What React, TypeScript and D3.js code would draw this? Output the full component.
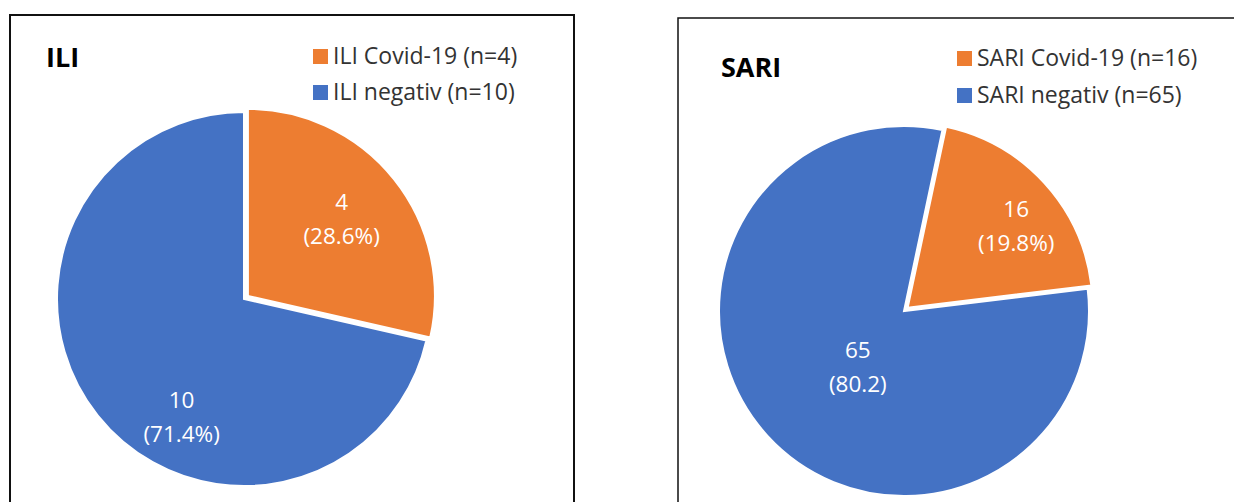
import React from "react";
import * as d3 from "d3";

// ---- Data ----
const iliCategories = ["ILI Covid-19 (n=4)", "ILI negativ (n=10)"];
const iliValues = [4, 10];
const iliPercentLabels = ["(28.6%)", "(71.4%)"];

const sariCategories = ["SARI Covid-19 (n=16)", "SARI negativ (n=65)"];
const sariValues = [16, 65];
const sariPercentLabels = ["(19.8%)", "(80.2)"];

const sliceColors = ["#ED7D31", "#4472C4"];

// ---- Layout ----
const W = 1234;
const H = 502;
const FONT = "'Open Sans', 'Noto Sans', sans-serif";

type PanelProps = {
  title: string;
  categories: string[];
  values: number[];
  pctLabels: string[];
  box: { x: number; y: number; w: number; h: number; sw: number };
  cx: number;
  cy: number;
  r: number;
  startDeg: number;
  explode: number;
  titlePos: { x: number; y: number };
  legend: { x: number; y: number; step: number };
  labelPlace: { frac: number; offDeg: number }[];
};

const rad = (d: number) => (d * Math.PI) / 180;

function PiePanel(p: PanelProps) {
  const pie = d3
    .pie<number>()
    .sort(null)
    .value((d) => d)
    .startAngle(rad(p.startDeg))
    .endAngle(rad(p.startDeg) + 2 * Math.PI);
  const arcs = pie(p.values);
  const arcGen = d3.arc<d3.PieArcDatum<number>>().innerRadius(0).outerRadius(p.r);

  return (
    <g>
      <rect
        x={p.box.x}
        y={p.box.y}
        width={p.box.w}
        height={p.box.h}
        fill="#fff"
        stroke="#111"
        strokeWidth={p.box.sw}
      />
      <text
        x={p.titlePos.x}
        y={p.titlePos.y}
        fontFamily={FONT}
        fontWeight="bold"
        fontSize={27}
        fill="#000"
      >
        {p.title}
      </text>
      {arcs.map((a, i) => {
        const mid = (a.startAngle + a.endAngle) / 2;
        const off = i === 0 ? p.explode : 0;
        const ox = p.cx + off * Math.sin(mid);
        const oy = p.cy - off * Math.cos(mid);
        const la = mid + rad(p.labelPlace[i].offDeg);
        const lr = p.labelPlace[i].frac * p.r;
        const lx = ox + lr * Math.sin(la);
        const ly = oy - lr * Math.cos(la);
        return (
          <g key={i}>
            <path
              d={arcGen(a) || ""}
              transform={`translate(${ox},${oy})`}
              fill={sliceColors[i]}
              stroke="#fff"
              strokeWidth={2}
              strokeLinejoin="miter"
            />
            <text
              x={lx}
              y={ly - 17}
              textAnchor="middle"
              dominantBaseline="central"
              fontFamily={FONT}
              fontSize={22.5}
              fill="#fff"
            >
              {String(a.data)}
            </text>
            <text
              x={lx}
              y={ly + 17}
              textAnchor="middle"
              dominantBaseline="central"
              fontFamily={FONT}
              fontSize={22.5}
              fill="#fff"
            >
              {p.pctLabels[i]}
            </text>
          </g>
        );
      })}
      {p.categories.map((c, i) => (
        <g key={c}>
          <rect
            x={p.legend.x}
            y={p.legend.y + i * p.legend.step}
            width={15}
            height={15}
            fill={sliceColors[i]}
          />
          <text
            x={p.legend.x + 20}
            y={p.legend.y + i * p.legend.step + 15}
            fontFamily={FONT}
            fontSize={23}
            fill="#333"
          >
            {c}
          </text>
        </g>
      ))}
    </g>
  );
}

export default function App() {
  return (
    <svg
      width={W}
      height={H}
      style={{ position: "absolute", left: 0, top: 0, background: "#fff" }}
    >
      <rect x={0} y={0} width={W} height={H} fill="#fff" />
      <PiePanel
        title="ILI"
        categories={iliCategories}
        values={iliValues}
        pctLabels={iliPercentLabels}
        box={{ x: 10, y: 15, w: 564, h: 520, sw: 2 }}
        cx={244}
        cy={299}
        r={187}
        startDeg={0}
        explode={5}
        titlePos={{ x: 46, y: 67 }}
        legend={{ x: 313, y: 49, step: 36 }}
        labelPlace={[
          { frac: 0.65, offDeg: -1 },
          { frac: 0.71, offDeg: -23.4 },
        ]}
      />
      <PiePanel
        title="SARI"
        categories={sariCategories}
        values={sariValues}
        pctLabels={sariPercentLabels}
        box={{ x: 678, y: 18, w: 620, h: 520, sw: 1.5 }}
        cx={904}
        cy={311}
        r={185}
        startDeg={12}
        explode={5}
        titlePos={{ x: 721, y: 77 }}
        legend={{ x: 957, y: 51, step: 37 }}
        labelPlace={[
          { frac: 0.735, offDeg: 5.4 },
          { frac: 0.39, offDeg: -7.8 },
        ]}
      />
    </svg>
  );
}
